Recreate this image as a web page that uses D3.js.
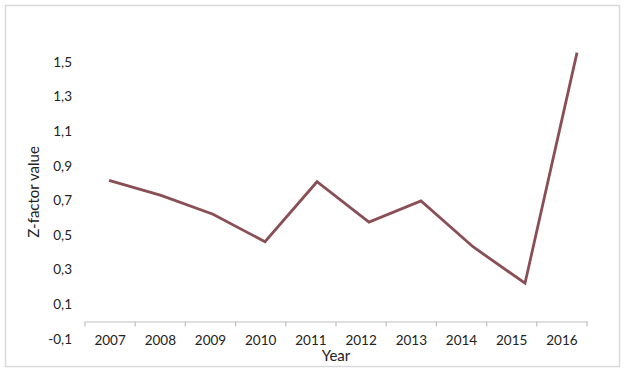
<!DOCTYPE html>
<html>
<head>
<meta charset="utf-8">
<script src="https://cdn.jsdelivr.net/npm/d3@7"></script>
<style>
  body { margin: 0; background: #fff; }
  text { font-family: Lato, "Open Sans", sans-serif; fill: #222; }
</style>
</head>
<body>
<div id="container"></div>
<script>
/* CONSTANTS AND GLOBALS */
const width = 626;
const height = 375;

// DATA
const years = ["2007", "2008", "2009", "2010", "2011", "2012", "2013", "2014", "2015", "2016"];
const zValues = [0.816, 0.729, 0.62, 0.461, 0.808, 0.575, 0.697, 0.432, 0.221, 1.554];
const yTicks = [-0.1, 0.1, 0.3, 0.5, 0.7, 0.9, 1.1, 1.3, 1.5];

const data = years.map((y, i) => ({ year: y, value: zValues[i] }));

// CREATE SVG
const svg = d3.select("#container")
  .append("svg")
  .attr("width", width)
  .attr("height", height);

// outer chart border
svg.append("rect")
  .attr("x", 5.5)
  .attr("y", 5.5)
  .attr("width", 614)
  .attr("height", 361)
  .attr("fill", "white")
  .attr("stroke", "#d9d9d9")
  .attr("stroke-width", 1.5);

/* SCALES */
const xScale = d3.scaleBand()
  .domain(years)
  .range([85, 587]);

// line points sit on their own spacing in the original
const xLine = d3.scalePoint()
  .domain(years)
  .range([109, 577]);

const yScale = d3.scaleLinear()
  .domain([0, 1.7])
  .range([321.5, 27.4]);

// X AXIS
const xAxis = svg.append("g")
  .attr("transform", "translate(0,321.5)")
  .call(d3.axisBottom(xScale).tickSize(0).tickPadding(14));

xAxis.select(".domain").attr("stroke", "#bfbfbf").attr("stroke-width", 1.2);
xAxis.selectAll("text").style("font-size", "13.5px").attr("fill", "#222");

// tick marks on the band edges
xAxis.selectAll("line.edge")
  .data(years.concat(["end"]))
  .join("line")
  .attr("class", "edge")
  .attr("x1", (d, i) => i < years.length ? xScale(d) : xScale.range()[1])
  .attr("x2", (d, i) => i < years.length ? xScale(d) : xScale.range()[1])
  .attr("y1", 0)
  .attr("y2", 5)
  .attr("stroke", "#bfbfbf")
  .attr("stroke-width", 1.2);

// Y AXIS (labels only)
const yAxis = svg.append("g")
  .attr("transform", "translate(72,0)")
  .call(d3.axisLeft(yScale)
    .tickValues(yTicks)
    .tickSize(0)
    .tickPadding(0)
    .tickFormat(d => d3.format(".1f")(d).replace(".", ",").replace("−", "-")));

yAxis.select(".domain").remove();
yAxis.selectAll("text").style("font-size", "13.5px").attr("fill", "#222");

// LINE
const line = d3.line()
  .x(d => xLine(d.year))
  .y(d => yScale(d.value));

svg.append("path")
  .datum(data)
  .attr("d", line)
  .attr("fill", "none")
  .attr("stroke", "#8a4f55")
  .attr("stroke-width", 2.8)
  .attr("stroke-linejoin", "miter");

// LABELS
svg.append("text")
  .attr("x", 336)
  .attr("y", 361)
  .attr("text-anchor", "middle")
  .style("font-size", "15px")
  .text("Year");

svg.append("text")
  .attr("transform", "translate(39,192) rotate(-90)")
  .attr("text-anchor", "middle")
  .style("font-size", "15px")
  .text("Z-factor value");
</script>
</body>
</html>
